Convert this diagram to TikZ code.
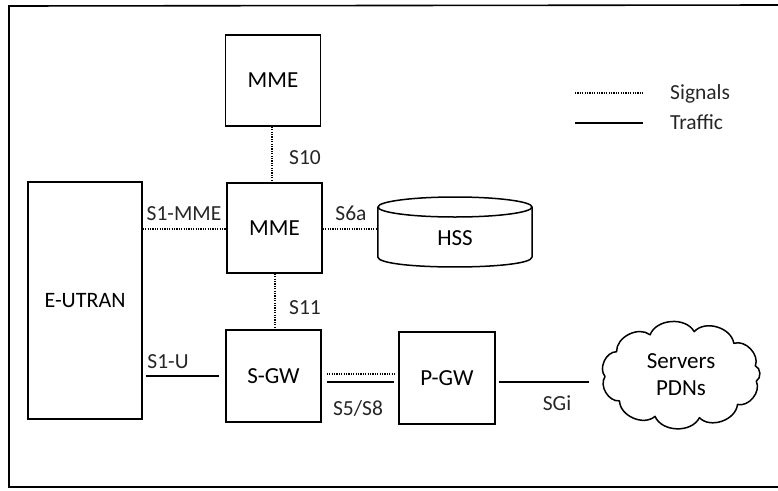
\documentclass[tikz,border=0pt]{standalone}
\usepackage{fontspec}
\setmainfont{Carlito}
\tikzset{
  box/.style={draw, line width=1.5pt, inner sep=0pt, font=\fontsize{23}{26}\selectfont},
  sig/.style={line width=1.7pt, dash pattern=on 1.2pt off 1.2pt},
  traf/.style={line width=1.5pt},
  lbl/.style={font=\fontsize{21.5}{24}\selectfont, inner sep=0pt, text=black!85},
}
\begin{document}
\begin{tikzpicture}[x=1pt,y=-1pt]
\useasboundingbox (0,0) rectangle (778,490);
% frame
\draw[line width=1.6pt] (778,5) -- (9,6) -- (9,487) -- (778,487);
% nodes
\node[box, minimum width=95pt, minimum height=91pt] (mme1) at (273,80.5) {MME};
\node[box, minimum width=95pt, minimum height=90pt] (mme2) at (274.5,228) {MME};
\node[box, minimum width=114pt, minimum height=237pt, font=\fontsize{22}{25}\selectfont] (eutran) at (85,300.5) {E-UTRAN};
\node[box, minimum width=95pt, minimum height=92pt] (sgw) at (273.5,376) {S-GW};
\node[box, minimum width=96pt, minimum height=92pt] (pgw) at (447,378) {P-GW};
% HSS cylinder
\node[inner sep=0pt, minimum width=154pt, minimum height=70pt, font=\fontsize{23}{26}\selectfont] (hss) at (455,238) {HSS};
\draw[line width=1.5pt] (hss.west |- 0,207) -- (hss.west |- 0,257)
  .. controls (378,270.3) and (532,270.3) .. (532,257) -- (532,207);
\draw[line width=1.5pt] (455,207) ellipse [x radius=77pt, y radius=10pt];
% cloud
\node[inner sep=0pt, minimum width=172pt, minimum height=108pt, align=center,
  font=\fontsize{23}{27}\selectfont] (cloud) at (681,375) {Servers\\PDNs};
\draw[line width=1.5pt, line join=round]
  ([shift={(681,375)}]8:76 and 44)
  \foreach \a in {42,76,...,360} { to[bend left=65] ([shift={(681,375)}]\a:76 and 44) }
  to[bend left=65] ([shift={(681,375)}]8:76 and 44);
% connectors
\draw[sig] (mme1.south -| 272,0) -- (mme2.north -| 272,0);
\draw[sig] (eutran.east |- 0,229) -- (mme2.west |- 0,229);
\draw[sig] (mme2.east |- 0,229) -- (hss.west |- 0,229);
\draw[sig] (mme2.south -| 275,0) -- (sgw.north -| 275,0);
\draw[traf] ([xshift=3pt]eutran.east |- 0,376) -- ([xshift=-6pt]sgw.west |- 0,376);
\draw[sig] ([xshift=5pt]sgw.east |- 0,374) -- ([xshift=-4pt]pgw.west |- 0,374);
\draw[traf] ([xshift=5pt]sgw.east |- 0,382) -- ([xshift=-4pt]pgw.west |- 0,382);
\draw[traf] ([xshift=3pt]pgw.east |- 0,382) -- ([xshift=-6pt]cloud.west |- 0,382);
% labels
\node[lbl] (l10) at (305,158) {S10};
\node[lbl] (l1mme) at (184,214) {S1-MME};
\node[lbl] (l6a) at (351,213) {S6a};
\node[lbl] (l11) at (305,308) {S11};
\node[lbl] (l1u) at (168,362) {S1-U};
\node[lbl] (l58) at (358,408) {S5/S8};
\node[lbl] (lsgi) at (557,403) {SGi};
% legend
\coordinate (ls1) at (575,93);
\coordinate (ls2) at (643,93);
\coordinate (lt1) at (575,123);
\coordinate (lt2) at (643,123);
\draw[sig, line width=1.3pt] (ls1) -- (ls2);
\draw[traf] (lt1) -- (lt2);
\node[lbl, anchor=west] (lsig) at (670,94) {Signals};
\node[lbl, anchor=west] (ltra) at (670,122) {Traffic};
\end{tikzpicture}
\end{document}
